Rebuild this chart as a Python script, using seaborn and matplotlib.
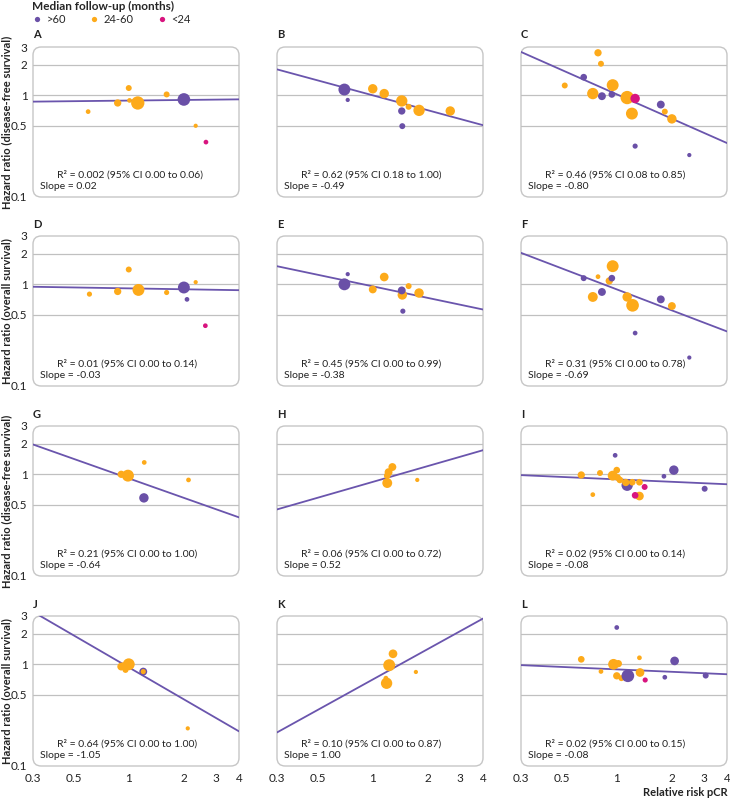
"""
Meta-regression of hazard ratio on relative risk of pCR (12 panels)
"""

import numpy as np
import pandas as pd
import matplotlib
matplotlib.use("Agg")
import matplotlib.pyplot as plt
import seaborn as sns
from matplotlib.lines import Line2D
from matplotlib.patches import FancyBboxPatch
from matplotlib.ticker import NullLocator

# follow-up groups and colours
groups = [">60", "24-60", "<24"]
group_colors = {">60": "#6a50a7", "24-60": "#fdaa1a", "<24": "#d8147f"}
line_color = "#6a55ad"

# per panel: relative risk pCR, hazard ratio, follow-up group, weight
a_rr = [0.60, 0.87, 1.00, 1.01, 1.12, 1.61, 2.00, 2.32, 2.64]
a_hr = [0.69, 0.84, 1.18, 0.89, 0.84, 1.02, 0.91, 0.50, 0.345]
a_fu = ["24-60", "24-60", "24-60", "24-60", "24-60", "24-60", ">60", "24-60", "<24"]
a_wt = [5, 12, 8, 5, 40, 8, 36, 4, 5]

b_rr = [0.70, 0.73, 1.00, 1.155, 1.44, 1.57, 1.44, 1.79, 1.45, 2.65]
b_hr = [1.14, 0.90, 1.16, 1.04, 0.88, 0.77, 0.70, 0.71, 0.496, 0.70]
b_fu = [">60", ">60", "24-60", "24-60", "24-60", "24-60", ">60", "24-60", ">60", "24-60"]
b_wt = [32, 4, 20, 20, 29, 8, 12, 29, 8, 20]

c_rr = [0.79, 0.82, 0.52, 0.66, 0.95, 0.74, 0.83, 0.94, 1.14, 1.26, 1.21, 1.74, 1.83, 2.00, 1.26, 2.49]
c_hr = [2.63, 2.05, 1.25, 1.51, 1.26, 1.04, 0.98, 1.02, 0.95, 0.93, 0.66, 0.81, 0.69, 0.585, 0.315, 0.257]
c_fu = ["24-60", "24-60", "24-60", ">60", "24-60", "24-60", ">60", ">60", "24-60", "<24",
        "24-60", ">60", "24-60", "24-60", ">60", ">60"]
c_wt = [12, 8, 8, 10, 32, 29, 14, 10, 40, 20, 32, 14, 8, 20, 6, 4]

d_rr = [0.61, 0.87, 1.00, 1.13, 1.61, 2.00, 2.32, 2.08, 2.62]
d_hr = [0.80, 0.85, 1.40, 0.88, 0.83, 0.93, 1.05, 0.71, 0.39]
d_fu = ["24-60", "24-60", "24-60", "24-60", "24-60", ">60", "24-60", ">60", "<24"]
d_wt = [6, 12, 8, 32, 6, 32, 4, 5, 5]

e_rr = [0.73, 0.70, 1.00, 1.155, 1.57, 1.45, 1.44, 1.79, 1.46]
e_hr = [1.26, 1.00, 0.89, 1.18, 0.96, 0.785, 0.87, 0.82, 0.543]
e_fu = [">60", ">60", "24-60", "24-60", "24-60", "24-60", ">60", "24-60", ">60"]
e_wt = [4, 32, 14, 17, 8, 20, 14, 20, 6]

f_rr = [0.66, 0.79, 0.95, 0.91, 0.94, 0.83, 0.74, 1.14, 1.22, 1.74, 2.00, 1.26, 2.49]
f_hr = [1.15, 1.19, 1.51, 1.08, 1.15, 0.84, 0.75, 0.75, 0.62, 0.71, 0.61, 0.33, 0.189]
f_fu = [">60", "24-60", "24-60", "24-60", ">60", ">60", "24-60", "24-60", "24-60", ">60",
        "24-60", ">60", ">60"]
f_wt = [8, 5, 32, 12, 10, 14, 22, 20, 36, 14, 14, 5, 4]

g_rr = [0.91, 0.99, 1.215, 1.21, 2.12]
g_hr = [1.00, 0.97, 1.31, 0.585, 0.88]
g_fu = ["24-60", "24-60", "24-60", ">60", "24-60"]
g_wt = [12, 32, 5, 20, 5]

h_rr = [1.28, 1.22, 1.20, 1.20, 1.75]
h_hr = [1.18, 1.05, 0.97, 0.82, 0.88]
h_fu = ["24-60", "24-60", "24-60", "24-60", "24-60"]
h_wt = [14, 14, 10, 22, 4]

i_rr = [0.98, 2.05, 1.81, 3.02, 0.64, 0.81, 0.74, 1.00, 0.95, 1.01, 1.04, 1.14, 1.12, 1.215,
        1.33, 1.42, 1.33, 1.26]
i_hr = [1.54, 1.10, 0.956, 0.72, 0.985, 1.03, 0.63, 1.10, 0.97, 0.93, 0.88, 0.78, 0.83, 0.835,
        0.835, 0.75, 0.61, 0.62]
i_fu = [">60", ">60", ">60", ">60", "24-60", "24-60", "24-60", "24-60", "24-60", "24-60",
        "24-60", ">60", "24-60", "24-60", "24-60", "<24", "24-60", "<24"]
i_wt = [5, 20, 5, 8, 12, 8, 5, 10, 22, 10, 10, 29, 12, 10, 10, 8, 17, 10]

j_rr = [0.91, 0.96, 0.93, 1.00, 1.20, 1.20, 2.10]
j_hr = [0.95, 0.88, 0.96, 1.00, 0.847, 0.847, 0.233]
j_fu = ["24-60", "24-60", "24-60", "24-60", ">60", "24-60", "24-60"]
j_wt = [14, 8, 12, 32, 14, 6, 4]

k_rr = [1.29, 1.23, 1.18, 1.19, 1.72]
k_hr = [1.27, 0.98, 0.73, 0.65, 0.84]
k_fu = ["24-60", "24-60", "24-60", "24-60", "24-60"]
k_wt = [17, 32, 5, 29, 4]

l_rr = [1.00, 0.64, 1.33, 0.96, 1.02, 0.82, 1.00, 1.06, 1.34, 1.15, 1.43, 1.83, 2.07, 3.06]
l_hr = [2.31, 1.12, 1.16, 1.00, 1.015, 0.85, 0.77, 0.73, 0.83, 0.77, 0.70, 0.745, 1.08, 0.774]
l_fu = [">60", "24-60", "24-60", "24-60", "24-60", "24-60", "24-60", "24-60", "24-60", ">60",
        "<24", ">60", ">60", ">60"]
l_wt = [5, 10, 5, 26, 12, 5, 12, 8, 17, 36, 6, 5, 17, 8]

panel_letters = list("ABCDEFGHIJKL")
r2_labels = [
    "R² = 0.002 (95% CI 0.00 to 0.06)", "R² = 0.62 (95% CI 0.18 to 1.00)",
    "R² = 0.46 (95% CI 0.08 to 0.85)", "R² = 0.01 (95% CI 0.00 to 0.14)",
    "R² = 0.45 (95% CI 0.00 to 0.99)", "R² = 0.31 (95% CI 0.00 to 0.78)",
    "R² = 0.21 (95% CI 0.00 to 1.00)", "R² = 0.06 (95% CI 0.00 to 0.72)",
    "R² = 0.02 (95% CI 0.00 to 0.14)", "R² = 0.64 (95% CI 0.00 to 1.00)",
    "R² = 0.10 (95% CI 0.00 to 0.87)", "R² = 0.02 (95% CI 0.00 to 0.15)",
]
slopes = [0.02, -0.49, -0.80, -0.03, -0.38, -0.69, -0.64, 0.52, -0.08, -1.05, 1.00, -0.08]
# log10 hazard ratio at relative risk 1
intercepts = [-0.052, 0.0, 0.01, -0.04, -0.02, -0.05, -0.04, -0.075, -0.05, -0.03, -0.15, -0.05]
row_labels = ["Hazard ratio (disease-free survival)", "Hazard ratio (overall survival)",
              "Hazard ratio (disease-free survival)", "Hazard ratio (overall survival)"]

x_ticks = [0.3, 0.5, 1, 2, 3, 4]
x_ticklabels = ["0.3", "0.5", "1", "2", "3", "4"]
y_ticks = [0.1, 0.5, 1, 2, 3]
y_ticklabels = ["0.1", "0.5", "1", "2", "3"]
grid_levels = [0.5, 1, 2]

panels = [
    (a_rr, a_hr, a_fu, a_wt), (b_rr, b_hr, b_fu, b_wt), (c_rr, c_hr, c_fu, c_wt),
    (d_rr, d_hr, d_fu, d_wt), (e_rr, e_hr, e_fu, e_wt), (f_rr, f_hr, f_fu, f_wt),
    (g_rr, g_hr, g_fu, g_wt), (h_rr, h_hr, h_fu, h_wt), (i_rr, i_hr, i_fu, i_wt),
    (j_rr, j_hr, j_fu, j_wt), (k_rr, k_hr, k_fu, k_wt), (l_rr, l_hr, l_fu, l_wt),
]

sns.set_style("white")
plt.rcParams['font.family'] = ['Lato', 'DejaVu Sans']

W, H = 730, 799
fig = plt.figure(figsize=(W / 100, H / 100), dpi=100)

col_left = [33, 277, 521]
row_top = [47, 236, 426, 616]
box_w, box_h = 206, 150
txt_color = "#222222"

for idx, (rr, hr, fu, wt) in enumerate(panels):
    row, col = divmod(idx, 3)
    left = col_left[col] / W
    bottom = 1 - (row_top[row] + box_h) / H
    ax = fig.add_axes([left, bottom, box_w / W, box_h / H])
    ax.set_xscale('log')
    ax.set_yscale('log')

    # rounded frame
    for s in ax.spines.values():
        s.set_visible(False)
    frame = FancyBboxPatch((0, 0), 1, 1, boxstyle="round,pad=0,rounding_size=0.04",
                           mutation_aspect=box_w / box_h, transform=ax.transAxes,
                           facecolor="white", edgecolor="#c6c6c6", lw=1.0,
                           clip_on=False, zorder=0)
    ax.add_patch(frame)
    for g in grid_levels:
        ax.axhline(g, color="#c0c0c0", lw=0.9, zorder=1)

    # regression line
    xs = np.array([0.3, 4.0])
    ys = 10 ** (intercepts[idx] + slopes[idx] * np.log10(xs))
    ax.plot(xs, ys, color=line_color, lw=1.3, zorder=2)

    df = pd.DataFrame({"rr": rr, "hr": hr, "fu": fu, "wt": wt})
    sns.scatterplot(data=df, x="rr", y="hr", hue="fu", size="wt",
                    palette=group_colors, hue_order=groups,
                    sizes=(0, 92), size_norm=(0, 40),
                    linewidth=0, alpha=1, legend=False, ax=ax, zorder=3)

    ax.set_xlim(0.3, 4)
    ax.set_ylim(0.099, 3.0)
    ax.set_xticks(x_ticks, labels=x_ticklabels)
    ax.set_yticks(y_ticks, labels=y_ticklabels)
    ax.xaxis.set_minor_locator(NullLocator())
    ax.yaxis.set_minor_locator(NullLocator())
    ax.tick_params(axis='x', direction='in', length=3, width=0.9, color="#c0c0c0",
                   labelsize=8.5, labelcolor=txt_color, pad=5,
                   labelbottom=(row == 3))
    ax.tick_params(axis='y', length=0, labelsize=8.5, labelcolor=txt_color, pad=4,
                   labelleft=(col == 0))
    ax.set_xlabel("")
    ax.set_ylabel("")
    ax.grid(False)

    ax.text(0.117, 0.147, r2_labels[idx], transform=ax.transAxes, fontsize=7.5,
            color=txt_color, va='center', ha='left')
    ax.text(0.034, 0.073, f"Slope = {slopes[idx]:.2f}", transform=ax.transAxes,
            fontsize=7.5, color=txt_color, va='center', ha='left')

    fig.text(col_left[col] / W, 1 - (row_top[row] - 12) / H, panel_letters[idx],
             fontsize=8, fontweight='bold', color=txt_color, va='center', ha='left')

for row in range(4):
    fig.text(6.5 / W, 1 - (row_top[row] + box_h / 2) / H, row_labels[row],
             rotation=90, fontsize=8, fontweight='bold', color=txt_color,
             va='center', ha='center')

fig.text(728 / W, 1 - 792 / H, "Relative risk pCR", fontsize=8, fontweight='bold',
         color=txt_color, va='center', ha='right')

# legend
handles = [Line2D([], [], marker='o', ls='', markersize=3.8, markeredgewidth=0,
                  color=group_colors[g]) for g in groups]
fig.legend(handles, groups, loc='upper left', bbox_to_anchor=(31 / W, 1 - 0 / H),
           ncol=3, frameon=False, title="Median follow-up (months)",
           title_fontproperties={'weight': 'bold', 'size': 8.5}, alignment='left',
           fontsize=8, handlelength=0.8, handletextpad=0.5, columnspacing=2.1,
           borderpad=0.1, labelspacing=0.2, borderaxespad=0)

fig.savefig("out.png", dpi=100)
